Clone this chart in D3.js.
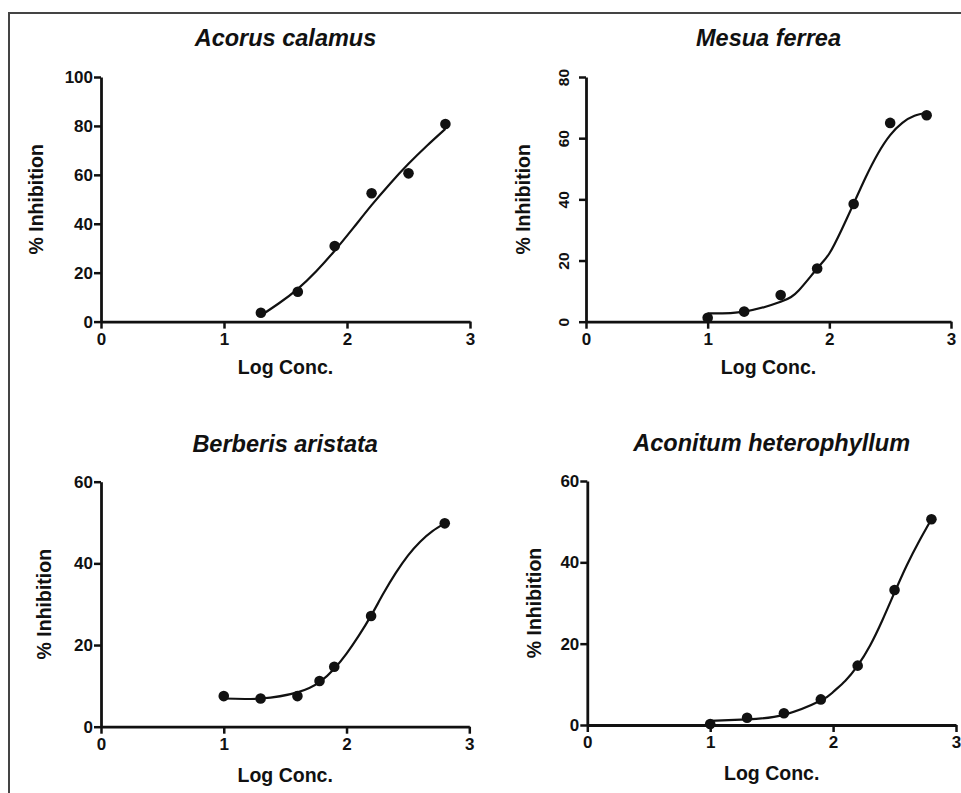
<!DOCTYPE html>
<html>
<head>
<meta charset="utf-8">
<script src="https://cdn.jsdelivr.net/npm/d3@7"></script>
<style>
  body { margin: 0; background: #fff; }
  svg { display: block; }
  text { font-family: "Liberation Sans", Arial, sans-serif; font-weight: bold; fill: #111; }
</style>
</head>
<body>
<div id="chart"></div>
<script>
// data
const xTicks = [0, 1, 2, 3];

const acorusX = [1.3, 1.6, 1.9, 2.2, 2.5, 2.8];
const acorusY = [3.6, 12.2, 30.9, 52.5, 60.6, 80.8];
const acorusFitX = [1.3, 1.45, 1.6, 1.75, 1.9, 2.05, 2.2, 2.35, 2.5, 2.65, 2.8];
const acorusFitY = [2.5, 7.6, 13.4, 20.6, 29.0, 38.2, 47.6, 56.4, 64.5, 71.9, 78.8];
const acorusTicks = [0, 20, 40, 60, 80, 100];

const mesuaX = [1.0, 1.3, 1.6, 1.9, 2.2, 2.5, 2.8];
const mesuaY = [1.3, 3.3, 8.7, 17.4, 38.5, 65, 67.5];
const mesuaFitX = [1.0, 1.3, 1.6, 1.75, 1.9, 2.0, 2.1, 2.2, 2.3, 2.4, 2.5, 2.6, 2.7, 2.8];
const mesuaFitY = [2.7, 3.3, 6.5, 10.3, 17.4, 22.3, 30, 38.6, 47.3, 55, 61, 65, 67.3, 68.3];
const mesuaTicks = [0, 20, 40, 60, 80];

const berberisX = [1.0, 1.3, 1.6, 1.78, 1.9, 2.2, 2.8];
const berberisY = [7.5, 6.9, 7.5, 11.2, 14.7, 27.1, 49.8];
const berberisFitX = [1.0, 1.3, 1.6, 1.78, 1.9, 2.0, 2.1, 2.2, 2.3, 2.4, 2.5, 2.6, 2.7, 2.8];
const berberisFitY = [6.9, 6.9, 8.4, 10.9, 14.2, 17.9, 22.3, 27.2, 32.6, 37.6, 41.9, 45.3, 47.9, 49.8];
const berberisTicks = [0, 20, 40, 60];

const aconitumX = [1.0, 1.3, 1.6, 1.9, 2.2, 2.5, 2.8];
const aconitumY = [0.25, 1.8, 2.9, 6.3, 14.6, 33.2, 50.6];
const aconitumFitX = [1.0, 1.3, 1.6, 1.9, 2.0, 2.1, 2.2, 2.3, 2.4, 2.5, 2.6, 2.7, 2.8];
const aconitumFitY = [1.0, 1.4, 2.5, 6.0, 8.1, 10.9, 14.6, 19.5, 25.7, 32.6, 39.3, 45.2, 50.6];
const aconitumTicks = [0, 20, 40, 60];

const panels = [
  { title: "Acorus calamus", x: acorusX, y: acorusY, fx: acorusFitX, fy: acorusFitY, ticks: acorusTicks,
    left: 101, right: 470, top: 77, bottom: 321.6, titleY: 46, labelDx: 65, xLabelDy: 52, rotated: false },
  { title: "Mesua ferrea", x: mesuaX, y: mesuaY, fx: mesuaFitX, fy: mesuaFitY, ticks: mesuaTicks,
    left: 586, right: 951, top: 77, bottom: 321.7, titleY: 46, labelDx: 63, xLabelDy: 52, rotated: true },
  { title: "Berberis aristata", x: berberisX, y: berberisY, fx: berberisFitX, fy: berberisFitY, ticks: berberisTicks,
    left: 101, right: 469.3, top: 481.7, bottom: 726.7, titleY: 452, labelDx: 57, xLabelDy: 55, rotated: false },
  { title: "Aconitum heterophyllum", x: aconitumX, y: aconitumY, fx: aconitumFitX, fy: aconitumFitY, ticks: aconitumTicks,
    left: 587.3, right: 956, top: 481, bottom: 725, titleY: 451, labelDx: 53, xLabelDy: 55, rotated: false }
];

const svg = d3.select("#chart")
  .append("svg")
  .attr("width", 961)
  .attr("height", 793);

// frame (top and left edges only)
svg.append("path")
  .attr("d", "M9,793V13H961")
  .attr("fill", "none")
  .attr("stroke", "#444")
  .attr("stroke-width", 2);

panels.forEach(function(p) {
  const yMax = d3.max(p.ticks);
  const xScale = d3.scaleLinear().domain([0, 3]).range([p.left, p.right]);
  const yScale = d3.scaleLinear().domain([0, yMax]).range([p.bottom, p.top]);
  const g = svg.append("g");

  // x axis
  const gx = g.append("g")
    .attr("transform", "translate(0," + p.bottom + ")")
    .call(d3.axisBottom(xScale).tickValues(xTicks).tickFormat(d3.format("d"))
      .tickSize(7).tickSizeOuter(0).tickPadding(4));
  gx.selectAll("text").style("font-size", "17px");

  // y axis
  const gy = g.append("g")
    .attr("transform", "translate(" + p.left + ",0)")
    .call(d3.axisLeft(yScale).tickValues(p.ticks).tickFormat(d3.format("d"))
      .tickSize(7).tickSizeOuter(0).tickPadding(1));
  gy.selectAll("text").style("font-size", "17px");
  if (p.rotated) {
    gy.selectAll(".tick text")
      .attr("x", 0)
      .attr("dy", null)
      .attr("text-anchor", "middle")
      .attr("transform", "translate(-17,0) rotate(-90)")
      .style("font-size", "15.5px");
  }

  [gx, gy].forEach(function(a) {
    a.select(".domain").attr("stroke", "#111").attr("stroke-width", 2.8);
    a.selectAll(".tick line").attr("stroke", "#111").attr("stroke-width", 2.5);
    a.selectAll("text").attr("fill", "#111");
  });

  // fitted curve
  const fit = p.fx.map((d, i) => [d, p.fy[i]]);
  g.append("path")
    .datum(fit)
    .attr("fill", "none")
    .attr("stroke", "#111")
    .attr("stroke-width", 2.2)
    .attr("d", d3.line()
      .x(d => xScale(d[0]))
      .y(d => yScale(d[1]))
      .curve(d3.curveNatural));

  // data points
  g.selectAll("circle")
    .data(p.x.map((d, i) => [d, p.y[i]]))
    .enter()
    .append("circle")
    .attr("cx", d => xScale(d[0]))
    .attr("cy", d => yScale(d[1]))
    .attr("r", 5.3)
    .attr("fill", "#111");

  // title
  g.append("text")
    .attr("x", (p.left + p.right) / 2)
    .attr("y", p.titleY)
    .attr("text-anchor", "middle")
    .style("font-size", "23.5px")
    .style("font-style", "italic")
    .text(p.title);

  // x label
  g.append("text")
    .attr("x", (p.left + p.right) / 2)
    .attr("y", p.bottom + p.xLabelDy)
    .attr("text-anchor", "middle")
    .style("font-size", "19.5px")
    .text("Log Conc.");

  // y label
  g.append("text")
    .attr("transform", "translate(" + (p.left - p.labelDx + 7) + "," + ((p.top + p.bottom) / 2) + ") rotate(-90)")
    .attr("text-anchor", "middle")
    .style("font-size", "19.5px")
    .text("% Inhibition");
});
</script>
</body>
</html>
